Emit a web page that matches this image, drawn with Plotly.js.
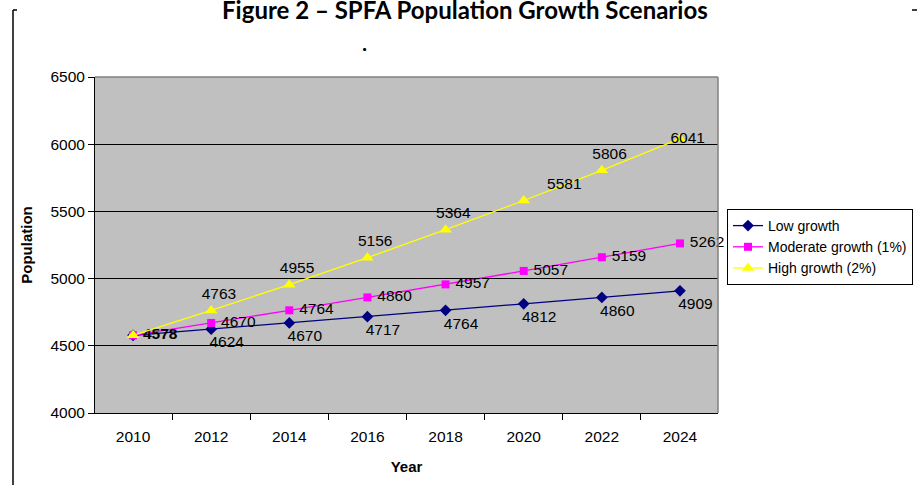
<!DOCTYPE html>
<html>
<head>
<meta charset="utf-8">
<script src="https://cdn.plot.ly/plotly-3.0.1.min.js"></script>
<style>html,body{margin:0;padding:0;background:#fff;}#chart{width:917px;height:485px;}</style>
</head>
<body>
<div id="chart"></div>
<script>
const years = ["2010","2012","2014","2016","2018","2020","2022","2024"];
const lowGrowth = [4578,4624,4670,4717,4764,4812,4860,4909];
const moderateGrowth = [4578,4670,4764,4860,4957,5057,5159,5262];
const highGrowth = [4578,4763,4955,5156,5364,5581,5806,6041];
const seriesNames = ["Low growth","Moderate growth (1%)","High growth (2%)"];
const yTicks = [4000,4500,5000,5500,6000,6500];

const FONT = "Liberation Sans, Arial, sans-serif";
const labelFont = {family: FONT, size: 15.5, color: "#000"};
const EN = "\u2002", FOUR = "\u2005";

// label texts (first point: all three series share the value 4578 -> drawn once, bold as in the reference)
const lowText = lowGrowth.map((v, i) => i === 0 ? "" : EN + EN + EN + EN + v);
const lowPos = years.map(() => "bottom center");
const modText = moderateGrowth.map((v, i) => i === 0 ? FOUR + "<b>" + v + "</b>" : FOUR + v);
const modPos = years.map(() => "middle right");
const highText = highGrowth.map((v, i) => i === 0 ? "" : EN + EN + v);
const highPos = years.map((_, i) => i === 5 ? "top right" : (i === 7 ? "middle center" : "top center"));

const traces = [
  {
    x: years, y: lowGrowth, name: seriesNames[0], type: "scatter", mode: "lines+markers+text",
    line: {color: "#000080", width: 1.3},
    marker: {symbol: "diamond", size: 9, color: "#000080"},
    text: lowText, textposition: lowPos, textfont: labelFont, cliponaxis: false
  },
  {
    x: years, y: moderateGrowth, name: seriesNames[1], type: "scatter", mode: "lines+markers+text",
    line: {color: "#FF00FF", width: 1.3},
    marker: {symbol: "square", size: 8, color: "#FF00FF"},
    text: modText, textposition: modPos, textfont: labelFont, cliponaxis: false
  },
  {
    x: years, y: highGrowth, name: seriesNames[2], type: "scatter", mode: "lines+markers+text",
    line: {color: "#FFFF00", width: 1.3},
    marker: {symbol: "triangle-up", size: 11, color: "#FFFF00"},
    text: highText, textposition: highPos, textfont: labelFont, cliponaxis: false
  }
];

const W = 820, H = 336; // paper area in px
const px = v => (v - 95) / W;
const py = v => (413 - v) / H;

const layout = {
  width: 917, height: 485,
  margin: {l: 95, r: 2, t: 77, b: 72, pad: 0},
  paper_bgcolor: "#ffffff",
  plot_bgcolor: "#C0C0C0",
  font: {family: FONT, color: "#000"},
  title: {
    text: "<b>Figure 2 – SPFA Population Growth Scenarios</b>",
    font: {family: "Lato, Open Sans, sans-serif", size: 24, color: "#000"},
    xref: "container", x: 0.507, xanchor: "center",
    yref: "container", y: 0.978, yanchor: "middle"
  },
  xaxis: {
    domain: [0, 623 / W],
    type: "category", categoryorder: "array", categoryarray: years,
    tickvals: years, ticktext: years,
    tickson: "boundaries", ticks: "outside", ticklen: 6, tickcolor: "#000",
    ticklabelstandoff: 9,
    showline: true, linecolor: "#000", linewidth: 1, mirror: false,
    showgrid: false, zeroline: false,
    tickfont: {family: FONT, size: 15.5, color: "#000"},
    title: {text: "<b>Year</b>", font: {family: FONT, size: 15, color: "#000"}, standoff: 17}
  },
  yaxis: {
    range: [4000, 6500], tickvals: yTicks, ticktext: yTicks.map(String),
    ticks: "outside", ticklen: 6, tickcolor: "#000",
    showline: true, linecolor: "#000", linewidth: 1,
    showgrid: true, gridcolor: "#000", gridwidth: 1, zeroline: false,
    tickfont: {family: FONT, size: 15.5, color: "#000"},
    title: {text: "<b>Population</b>", font: {family: FONT, size: 15, color: "#000"}, standoff: 14}
  },
  legend: {
    x: px(727), xanchor: "left", y: py(209), yanchor: "top",
    bgcolor: "#ffffff", bordercolor: "#000", borderwidth: 1,
    font: {family: FONT, size: 14, color: "#000"},
    tracegroupgap: 0, itemwidth: 30
  },
  showlegend: true,
  shapes: [
    {type: "line", xref: "paper", yref: "paper", x0: px(718), x1: px(718), y0: 0, y1: 1, line: {color: "#808080", width: 1.5}},
    {type: "line", xref: "paper", yref: "paper", x0: 0, x1: px(718), y0: 1, y1: 1, line: {color: "#808080", width: 1.5}},
    {type: "line", xref: "paper", yref: "paper", x0: px(13), x1: px(13), y0: py(10), y1: py(490), line: {color: "#000", width: 1.5}},
    {type: "line", xref: "paper", yref: "paper", x0: px(13), x1: px(17), y0: py(10), y1: py(10), line: {color: "#000", width: 1.5}},
    {type: "line", xref: "paper", yref: "paper", x0: px(912), x1: px(917), y0: py(10), y1: py(10), line: {color: "#000", width: 1.5}}
  ],
  annotations: [
    {text: "<b>.</b>", xref: "paper", yref: "paper", x: px(364), y: py(44),
     showarrow: false, font: {family: "Open Sans, sans-serif", size: 18, color: "#000"}, xanchor: "center", yanchor: "middle"}
  ]
};

Plotly.newPlot("chart", traces, layout, {displayModeBar: false, staticPlot: true});
</script>
</body>
</html>
